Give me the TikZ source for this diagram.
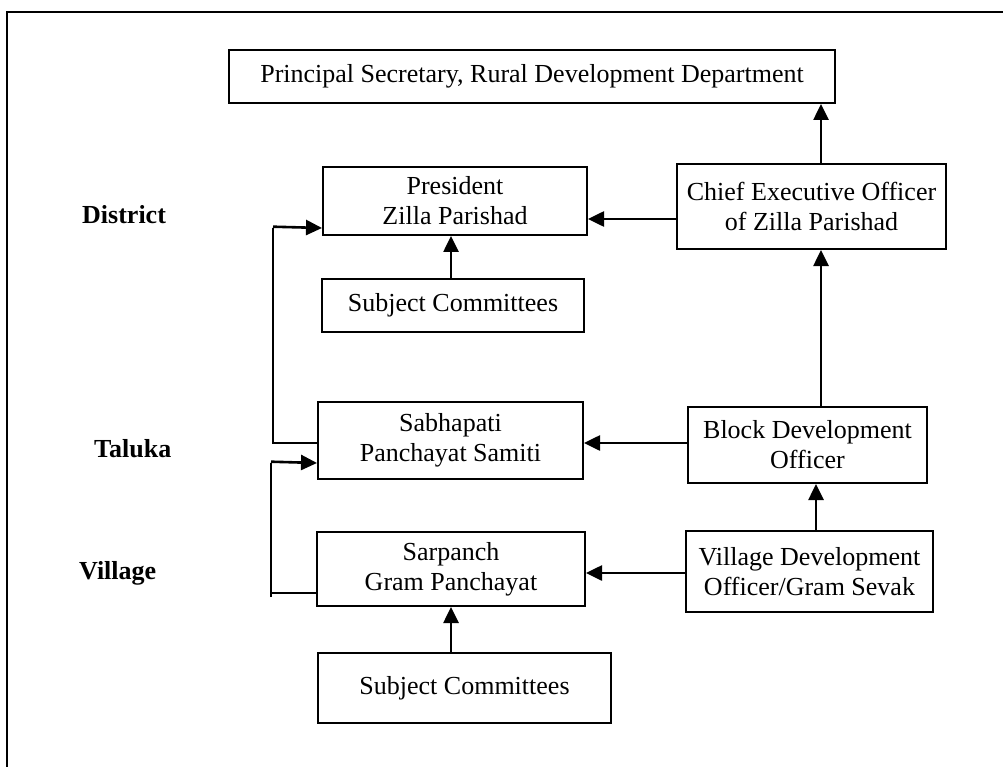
\documentclass[tikz,border=0pt]{standalone}
\usepackage{fontspec}
\setmainfont{Liberation Serif}
\usetikzlibrary{arrows.meta}
\tikzset{
  box/.style={draw, line width=2pt, inner sep=0pt, align=center, anchor=center,
    font=\fontsize{26}{30}\selectfont},
  lbl/.style={font=\fontsize{26}{30}\selectfont\bfseries, anchor=west, inner sep=0pt},
  arr/.style={line width=2.6pt, -{Triangle[length=16pt,width=15pt]}},
  ln/.style={line width=2.6pt},
  frame/.style={line width=1.5pt},
}
\begin{document}
\begin{tikzpicture}[x=1pt, y=-1pt]
\useasboundingbox (0,0) rectangle (1003,767);
\fill[white] (0,0) rectangle (1003,767);
% outer frame
\draw[frame] (7,770) -- (7,12) -- (1006,12);

% guide coordinates
\coordinate (xa) at (821,0);
\coordinate (xb) at (816,0);
\coordinate (xc) at (451,0);
\coordinate (ya) at (0,219);
\coordinate (yb) at (0,443);
\coordinate (yc) at (0,573);
\coordinate (yd) at (0,228);
\coordinate (ye) at (0,463);
\coordinate (yf) at (0,593);

% boxes
\node[box, minimum width=606pt, minimum height=53pt] (ps) at (532,76.5)
  {Principal Secretary, Rural Development Department};
\node[box, minimum width=264pt, minimum height=68pt] (pres) at (455,201)
  {President\\Zilla Parishad};
\node[box, minimum width=262pt, minimum height=53pt] (sct) at (453,305.5)
  {Subject Committees};
\node[box, minimum width=269pt, minimum height=85pt] (ceo) at (811.5,206.5)
  {Chief Executive Officer\\of Zilla Parishad};
\node[box, minimum width=265pt, minimum height=77pt] (sab) at (450.5,440.5)
  {Sabhapati\\Panchayat Samiti};
\node[box, minimum width=239pt, minimum height=76pt] (bdo) at (807.5,445)
  {Block Development\\Officer};
\node[box, minimum width=268pt, minimum height=74pt] (sar) at (451,569)
  {Sarpanch\\Gram Panchayat};
\node[box, minimum width=247pt, minimum height=81pt] (vdo) at (809.5,571.5)
  {Village Development\\Officer/Gram Sevak};
\node[box, minimum width=293pt, minimum height=70pt] (scb) at (464.5,688)
  {Subject Committees};

% level labels
\node[lbl] (ldist) at (82,215) {District};
\node[lbl] (ltal) at (94,449) {Taluka};
\node[lbl] (lvil) at (79,573) {Village};

% connectors
\draw[arr] (ceo.north -| xa) -- (ps.south -| xa);
\draw[arr] (ceo.west |- ya) -- (pres.east |- ya);
\draw[arr] (sct.north -| xc) -- (pres.south -| xc);
\draw[arr] (bdo.north -| xa) -- (ceo.south -| xa);
\draw[arr] (bdo.west |- yb) -- (sab.east |- yb);
\draw[arr] (vdo.north -| xb) -- (bdo.south -| xb);
\draw[arr] (vdo.west |- yc) -- (sar.east |- yc);
\draw[arr] (scb.north -| xc) -- (sar.south -| xc);

\coordinate (l1) at (273,0);
\coordinate (l2) at (271,0);
\draw[ln] (sab.west |- yb) -- (l1 |- yb) -- (l1 |- yd);
\draw[arr] ([yshift=1.3pt]l1 |- yd) -- (pres.west |- yd);
\draw[ln] (sar.west |- yf) -- (l2 |- yf);
\draw[ln] ([yshift=-4pt]l2 |- yf) -- (l2 |- ye);
\draw[arr] ([yshift=1.3pt]l2 |- ye) -- (sab.west |- ye);
\end{tikzpicture}
\end{document}
